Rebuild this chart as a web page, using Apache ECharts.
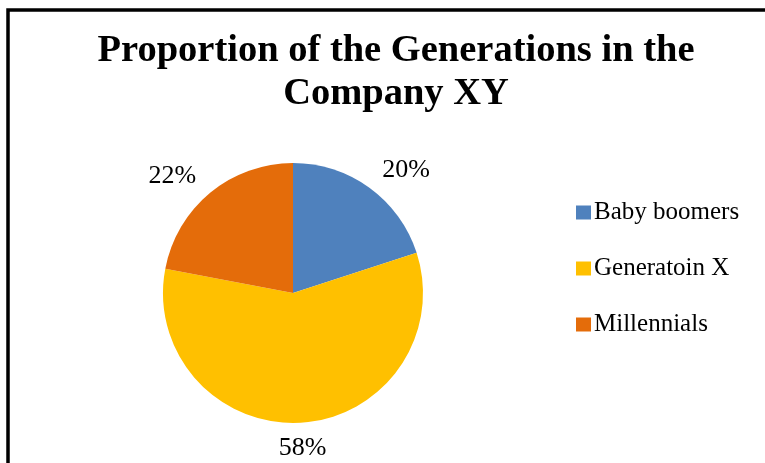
<!DOCTYPE html>
<html>
<head>
<meta charset="utf-8">
<script src="https://cdn.jsdelivr.net/npm/echarts@6/dist/echarts.min.js"></script>
<style>
  html, body { margin: 0; padding: 0; background: #fff; }
  #main { width: 765px; height: 463px; }
</style>
</head>
<body>
<div id="main"></div>
<script>
// 数据
var names = ['Baby boomers', 'Generatoin X', 'Millennials']
var values = [20, 58, 22]
var colors = ['#4F81BD', '#FFC000', '#E46C0A']

var serif = '"Liberation Serif", "Times New Roman", serif'

var res = []
for (var i = 0; i < names.length; i++) {
    res.push({ name: names[i], value: values[i], itemStyle: { color: colors[i] } })
}

var mychart = echarts.init(document.getElementById('main'))
mychart.setOption({
    animation: false,
    title: {
        text: 'Proportion of the Generations in the\nCompany XY',
        left: 391,
        textAlign: 'center',
        top: 25,
        textStyle: {
            fontFamily: serif,
            fontWeight: 'bold',
            fontSize: 38.5,
            lineHeight: 43,
            color: '#000'
        }
    },
    legend: {
        orient: 'vertical',
        left: 576,
        top: 200,
        padding: 0,
        itemWidth: 15,
        itemHeight: 14,
        itemGap: 31,
        icon: 'rect',
        textStyle: {
            fontFamily: serif,
            fontSize: 25,
            lineHeight: 24,
            color: '#000',
            padding: [0, 0, 0, -2]
        },
        data: names
    },
    graphic: [
        {
            type: 'polyline',
            shape: { points: [[8, 463], [8, 10], [765, 10]] },
            style: { stroke: '#000', lineWidth: 3.5, fill: null }
        }
    ],
    series: [
        {
            type: 'pie',
            center: [293, 293],
            radius: 130,
            startAngle: 90,
            clockwise: true,
            label: {
                show: true,
                position: 'outside',
                formatter: '{d}%',
                fontFamily: serif,
                fontSize: 26,
                color: '#000',
                distanceToLabelLine: 0
            },
            labelLine: { show: false, length: 22, length2: 0 },
            labelLayout: function (p) {
                // 底部标签居中
                if (p.dataIndex === 1) {
                    return { dx: -p.labelRect.width / 2, dy: 3 }
                }
            },
            itemStyle: { borderWidth: 0 },
            emphasis: { disabled: true },
            data: res
        }
    ]
})
</script>
</body>
</html>
